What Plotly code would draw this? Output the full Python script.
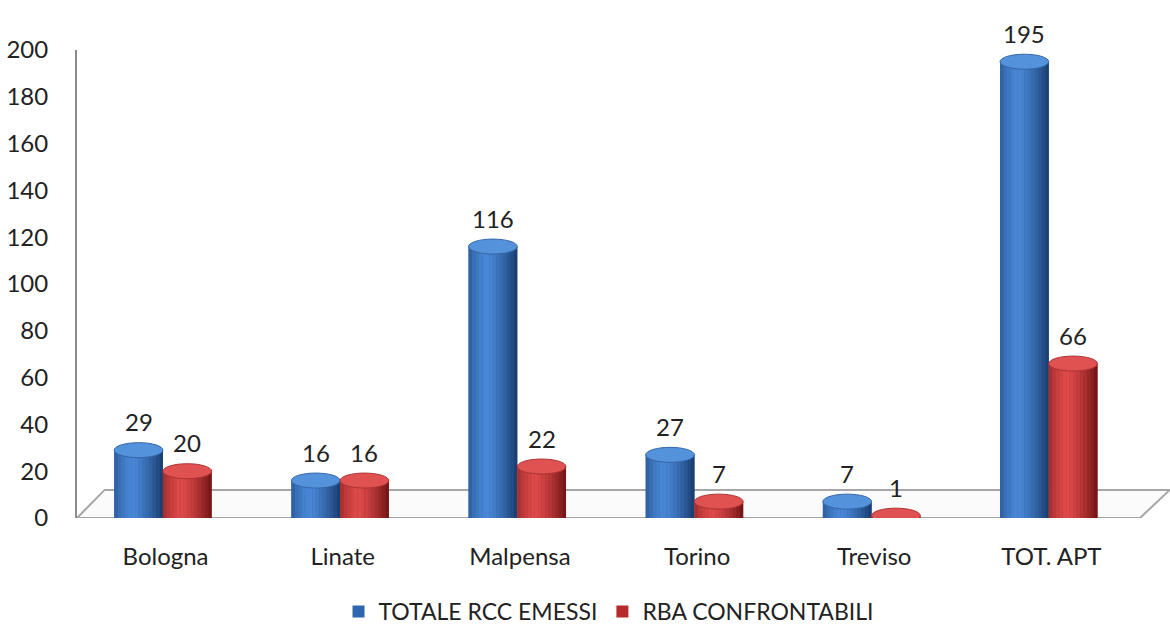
import plotly.graph_objects as go

categories = ["Bologna", "Linate", "Malpensa", "Torino", "Treviso", "TOT. APT"]
totale_rcc = [29, 16, 116, 27, 7, 195]
rba_conf = [20, 16, 22, 7, 1, 66]
series_names = ["TOTALE RCC EMESSI", "RBA CONFRONTABILI"]
y_ticks = [0, 20, 40, 60, 80, 100, 120, 140, 160, 180, 200]

FONT = "Lato, 'Open Sans', sans-serif"
x = list(range(len(categories)))


def mix(c1, c2, t):
    a = [int(c1[i:i + 2], 16) for i in (1, 3, 5)]
    b = [int(c2[i:i + 2], 16) for i in (1, 3, 5)]
    return "#%02x%02x%02x" % tuple(round(a[k] + (b[k] - a[k]) * t) for k in range(3))


def shade(dark, light, t):
    # cylinder lighting: brightest at ~35% of the width
    peak = 0.35
    if t <= peak:
        s = 0.35 + 0.65 * (t / peak) ** 0.6
    else:
        s = 1.0 - ((t - peak) / (1 - peak)) ** 1.4
    return mix(dark, light, max(0.0, min(1.0, s)))


fig = go.Figure()

W = 0.275
NSTRIP = 14
CAP = 3.2  # half height of the elliptical top, in axis units

series = [
    (totale_rcc, series_names[0], -0.29, "#173a6b", "#4a89d8", "#2f66b0", "#5592dc"),
    (rba_conf, series_names[1], -0.015, "#6e1414", "#e04b4b", "#b52a2a", "#e05252"),
]

for vals, name, off, dark, light, mid, capc in series:
    fig.add_trace(go.Bar(
        x=x, y=vals, name=name, offset=off, width=W,
        marker=dict(color=mid, line=dict(width=0)),
        showlegend=True,
    ))
    sw = W / NSTRIP
    for k in range(NSTRIP):
        t = (k + 0.5) / NSTRIP
        fig.add_trace(go.Bar(
            x=x, y=vals, offset=off + k * sw, width=sw * 1.02,
            marker=dict(color=shade(dark, light, t), line=dict(width=0)),
            showlegend=False, hoverinfo="skip",
        ))
    for xi, v in zip(x, vals):
        # elliptical top cap
        fig.add_shape(type="circle", xref="x", yref="y",
                      x0=xi + off, x1=xi + off + W, y0=v - CAP, y1=v + CAP,
                      fillcolor=capc, line=dict(color=mix(dark, light, 0.55), width=1),
                      layer="above")
        # value label
        fig.add_annotation(x=xi + off + W / 2, y=v, xref="x", yref="y",
                           text=str(v), showarrow=False, yanchor="bottom", yshift=12,
                           font=dict(family=FONT, size=24, color="#222222"))

# 3D floor
fig.add_shape(type="path", xref="paper", yref="y",
              path="M 0 0 L 1.0 0 L 1.028 12 L 0.026 12 Z",
              line=dict(color="#a6a6a6", width=2), fillcolor="#fbfbfb", layer="below")

fig.update_layout(
    width=1170, height=624,
    margin=dict(l=77, r=30, t=50, b=106, autoexpand=False),
    paper_bgcolor="white", plot_bgcolor="white",
    barmode="overlay",
    font=dict(family=FONT, size=24, color="#222222"),
    xaxis=dict(
        range=[-0.5, 5.5], tickmode="array", tickvals=x, ticktext=categories,
        showgrid=False, zeroline=False, showline=False, ticks="", automargin=False,
        ticklabelstandoff=22, tickfont=dict(family=FONT, size=24, color="#222222"),
    ),
    yaxis=dict(
        range=[0, 200], tickmode="array", tickvals=y_ticks, automargin=False,
        showgrid=False, zeroline=False, showline=True, linecolor="#8c8c8c", linewidth=2,
        ticks="", ticklabelstandoff=22, tickfont=dict(family=FONT, size=24, color="#222222"),
    ),
    legend=dict(orientation="h", x=0.5, xanchor="center", yref="container",
                y=0.02, yanchor="middle",
                font=dict(family=FONT, size=23, color="#222222"),
                traceorder="normal"),
    showlegend=True,
)

fig.write_html("out.html")
